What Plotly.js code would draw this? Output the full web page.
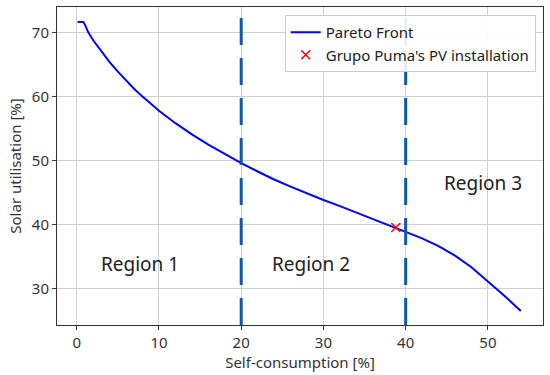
<!DOCTYPE html>
<html>
<head>
<meta charset="utf-8">
<script src="https://cdn.plot.ly/plotly-3.0.1.min.js"></script>
<style>html,body{margin:0;padding:0;background:#fff;}#chart{width:550px;height:375px;}</style>
</head>
<body>
<div id="chart"></div>
<script>
// Pareto front (self-consumption %, solar utilisation %)
const paretoX = [0.1, 0.8, 1.0, 1.4, 2, 3, 4, 5, 6, 7, 8, 10, 12, 14, 16, 18, 20, 22, 24, 26, 28, 30, 32, 34, 36, 38, 40, 42, 44, 46, 48, 50, 52, 54];
const paretoY = [71.6, 71.6, 71.2, 70.0, 68.75, 67.0, 65.35, 63.85, 62.45, 61.15, 59.95, 57.75, 55.8, 54.05, 52.45, 50.95, 49.55, 48.25, 47.0, 45.9, 44.8, 43.8, 42.85, 41.85, 40.85, 39.85, 38.85, 37.8, 36.6, 35.1, 33.3, 31.15, 28.85, 26.45];
// Grupo Puma's PV installation
const installX = [38.8];
const installY = [39.5];
// Region boundaries
const boundaries = [20, 40];
// Region labels
const regionLabels = ["Region 1", "Region 2", "Region 3"];
const regionX = [7.7, 28.5, 49.4];
const regionY = [33.8, 33.8, 46.4];

const xTicks = [0, 10, 20, 30, 40, 50];
const yTicks = [30, 40, 50, 60, 70];

const font = "Noto Sans, Open Sans, DejaVu Sans, sans-serif";

const traces = [
  {x: paretoX, y: paretoY, mode: "lines", name: "Pareto Front",
   line: {color: "#0000ff", width: 2}},
  {x: installX, y: installY, mode: "markers", name: "Grupo Puma's PV installation",
   marker: {symbol: "x-thin", size: 9, line: {color: "#ff0000", width: 1.5}, color: "#ff0000"}}
];

const shapes = boundaries.map(b => ({
  type: "line", xref: "x", yref: "paper", x0: b, x1: b, y0: 0, y1: 1,
  line: {color: "#0d5aa7", width: 3, dash: "27px,13px"}, layer: "above"
}));

const annotations = regionLabels.map((t, i) => ({
  x: regionX[i], y: regionY[i], xref: "x", yref: "y", text: t, showarrow: false,
  font: {family: font, size: 19, color: "#222"}
}));

const axisCommon = {
  showgrid: true, gridcolor: "#d0d0d0", gridwidth: 1,
  showline: true, mirror: true, linecolor: "#333", linewidth: 1,
  ticks: "outside", ticklen: 4, tickcolor: "#333",
  tickfont: {family: font, size: 15, color: "#333"},
  zeroline: false
};

const layout = {
  width: 550, height: 375,
  margin: {l: 57, r: 7, t: 7, b: 50},
  paper_bgcolor: "#fff", plot_bgcolor: "#fff",
  xaxis: Object.assign({}, axisCommon, {
    range: [-2.4, 56.7], tickvals: xTicks, ticktext: xTicks.map(String),
    title: {text: "Self-consumption [%]", font: {family: font, size: 15, color: "#333"}, standoff: 2}
  }),
  yaxis: Object.assign({}, axisCommon, {
    range: [24.27, 73.95], tickvals: yTicks, ticktext: yTicks.map(String),
    title: {text: "Solar utilisation [%]", font: {family: font, size: 15, color: "#333"}, standoff: 6}
  }),
  shapes: shapes,
  annotations: annotations,
  showlegend: true,
  legend: {
    x: 0.985, y: 0.975, xanchor: "right", yanchor: "top",
    bgcolor: "rgba(255,255,255,0.9)", bordercolor: "#ccc", borderwidth: 1,
    font: {family: font, size: 15, color: "#222"},
    tracegroupgap: 0
  }
};

Plotly.newPlot("chart", traces, layout, {displayModeBar: false, staticPlot: true});
</script>
</body>
</html>
